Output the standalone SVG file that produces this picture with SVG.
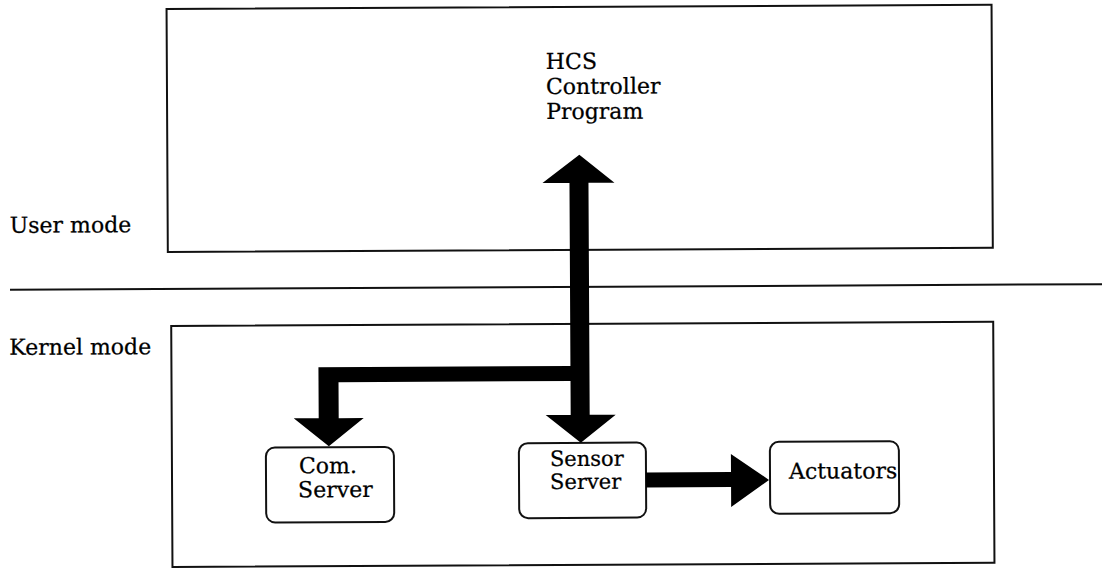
<svg xmlns="http://www.w3.org/2000/svg" width="1108" height="568" viewBox="0 0 1108 568">
  <style>
    .frame { fill: none; stroke: #111; stroke-width: 2; }
    .box { fill: #fff; stroke: #111; stroke-width: 2; }
    .rule { stroke: #111; stroke-width: 2; }
    .label { font-family: "DejaVu Serif", "Liberation Serif", serif; font-size: 22px; fill: #000; stroke: #000; stroke-width: 0.25; }
    .tight { font-size: 21px; }
    .flow { fill: #000; stroke: none; }
  </style>
  <rect width="1108" height="568" fill="#fff"/>
  <g transform="rotate(-0.3 554 284)">
    <!-- mode labels and divider -->
    <g id="mode-labels">
      <text class="label" x="10" y="230">User mode</text>
      <text class="label" x="9" y="352">Kernel mode</text>
      <line class="rule" x1="10" y1="287" x2="1102" y2="287"/>
    </g>

    <!-- user space region -->
    <g id="user-space">
      <rect class="frame" x="168" y="7" width="825" height="243"/>
      <text class="label" x="547" y="69">HCS</text>
      <text class="label" x="547" y="94">Controller</text>
      <text class="label" x="547" y="119">Program</text>
    </g>

    <!-- kernel space region -->
    <g id="kernel-space">
      <rect class="frame" x="171" y="324" width="822" height="241"/>
    </g>

    <g id="com-server">
      <rect class="box" x="265" y="446" width="128" height="75" rx="9"/>
      <text class="label" x="298" y="472">Com.</text>
      <text class="label" x="297" y="496">Server</text>
    </g>

    <g id="sensor-server">
      <rect class="box" x="518" y="443" width="127" height="75" rx="9"/>
      <text class="label tight" x="549" y="466">Sensor</text>
      <text class="label tight" x="549" y="489">Server</text>
    </g>

    <g id="actuators">
      <rect class="box" x="769" y="443" width="129" height="72" rx="9"/>
      <text class="label" x="788" y="480">Actuators</text>
    </g>

    <!-- connectors: thick block arrows -->
    <g id="connectors">
      <!-- two-way link between program and sensor server, with branch to com server -->
      <polygon class="flow" points="543,183 580,155 615,183 589,183 589,415 615,415 580,443 545,415 570,415 570,381 338,381 338,417 363,417 328,445 293,417 318,417 318,366 570,366 570,183"/>
      <!-- sensor server to actuators -->
      <polygon class="flow" points="645,473 730,473 730,455 768,481 730,508 730,488 645,488"/>
    </g>
  </g>
</svg>
